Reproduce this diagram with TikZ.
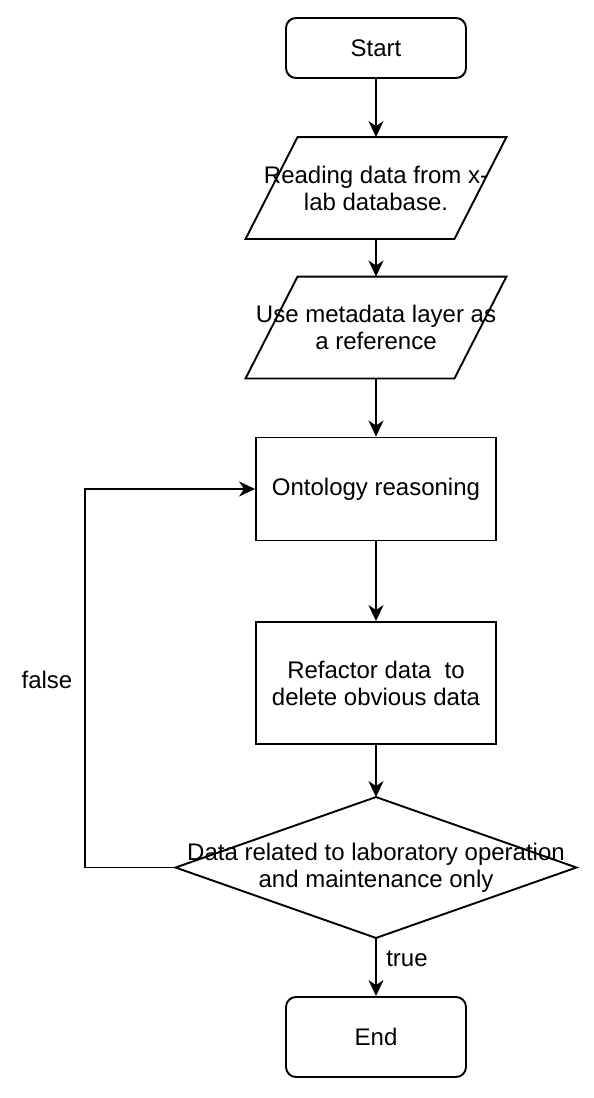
\documentclass[tikz,border=0pt]{standalone}
\usepackage{fontspec}
\setmainfont{Liberation Sans}
\usetikzlibrary{arrows.meta}
\begin{document}
\begin{tikzpicture}[x=1pt,y=-1pt, line width=1.9pt,
  txt/.style={inner sep=0pt, align=center, font=\fontsize{24}{27}\selectfont},
  term/.style={txt, draw, rounded corners=10pt, minimum width=180pt},
  proc/.style={txt, draw, minimum width=240pt},
  io/.style={txt, minimum width=259pt, minimum height=100pt},
  dec/.style={txt, minimum width=399pt, minimum height=139pt},
  lbl/.style={inner sep=0pt, font=\fontsize{24}{27}\selectfont},
  arr/.style={-{Stealth[length=16pt,width=15pt,inset=5pt]}}
]
\useasboundingbox (0,0) rectangle (594,1098);
\node[term, minimum height=60pt] (start) at (376,48) {Start};
\node[io] (read) at (376,188) {Reading data from x-\\lab database.};
\draw ([xshift=52pt]read.north west) -- (read.north east) -- ([xshift=-52pt]read.south east) -- (read.south west) -- cycle;
\node[io] (meta) at (376,327.5) {Use metadata layer as\\a reference};
\draw ([xshift=52pt]meta.north west) -- (meta.north east) -- ([xshift=-52pt]meta.south east) -- (meta.south west) -- cycle;
\node[proc, minimum height=103pt] (onto) at (376,489) {Ontology reasoning};
\node[proc, minimum height=122pt] (refac) at (376,683) {Refactor data\ \ to\\delete obvious data};
\node[dec] (cond) at (376,867.5) {Data related to laboratory operation\\and maintenance only};
\draw (cond.north) -- (cond.east) -- (cond.south) -- (cond.west) -- cycle;
\node[term, minimum height=80pt] (stop) at (376,1037) {End};
\node[lbl] (false) at (47,680) {false};
\node[lbl] (true) at (407,959) {true};
\draw[arr] (start.south) -- (read.north);
\draw[arr] (read.south) -- (meta.north);
\draw[arr] (meta.south) -- (onto.north);
\draw[arr] (onto.south) -- (refac.north);
\draw[arr] (refac.south) -- (cond.north);
\draw[arr] (cond.south) -- (stop.north);
\draw[arr] (cond.west) -- ++(-90.5,0) |- (onto.west);
\end{tikzpicture}
\end{document}
